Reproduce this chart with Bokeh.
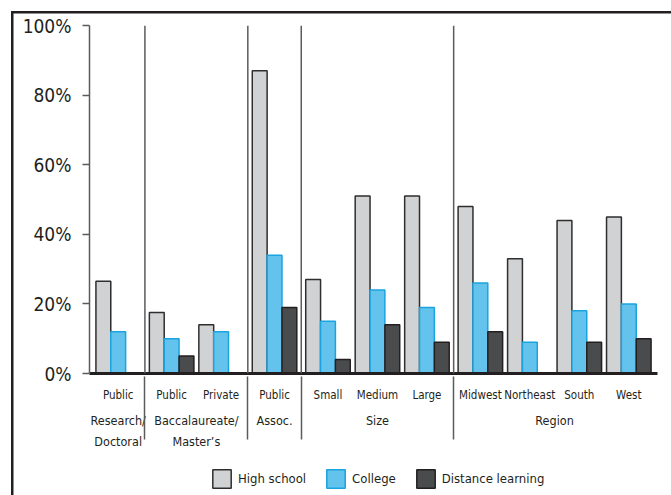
from bokeh.plotting import figure
from bokeh.layouts import column
from bokeh.models import (FactorRange, FixedTicker, PrintfTickFormatter, Span,
                          Legend, LegendItem, ColumnDataSource)
from bokeh.transform import dodge
from bokeh.embed import file_html
from bokeh.resources import INLINE

nan = float("nan")

groups = ["Research/\nDoctoral", "Baccalaureate/\nMaster\u2019s", "Assoc.", "Size", "Region"]
subcats = [["Public"], ["Public", "Private"], ["Public"],
           ["Small", "Medium", "Large"], ["Midwest", "Northeast", "South", "West"]]
series = ["High school", "College", "Distance learning"]
high_school = [26.5, 17.5, 14, 87, 27, 51, 51, 48, 33, 44, 45]
college = [12, 10, 12, 34, 15, 24, 19, 26, 9, 18, 20]
distance = [nan, 5, nan, 19, 4, 14, 9, 12, nan, 9, 10]
y_ticks = [0, 20, 40, 60, 80, 100]

FONT = "DejaVu Sans Condensed"
INK = "#231f20"
SEP = "#5a5b5d"
fills = ["#d1d2d4", "#63c3ec", "#4a4b4d"]
lines = ["#2e2e2e", "#1ba3df", "#231f20"]

factors = [(g, s) for g, subs in zip(groups, subcats) for s in subs]
gpad = 0.08
x_range = FactorRange(*factors, group_padding=gpad, factor_padding=0,
                      range_padding=0.08, range_padding_units="absolute")

p = figure(x_range=x_range, y_range=(0, 100), width=671, height=455,
           output_backend="svg", toolbar_location=None,
           min_border_left=89, min_border_right=14, min_border_top=25,
           min_border_bottom=82)
p.outline_line_color = None
p.border_fill_color = None
p.xgrid.visible = False
p.ygrid.visible = False

src = ColumnDataSource(dict(x=factors, hs=high_school, col=college, dl=distance))
for key, off, fc, lc in zip(["hs", "col", "dl"], [-0.3, 0.0, 0.3], fills, lines):
    p.vbar(x=dodge("x", off, range=p.x_range), top=key, width=0.3, source=src,
           fill_color=fc, line_color=lc, line_width=1.5)

# group separators inside the plot
cum = 0
for k, subs in enumerate(subcats[:-1]):
    cum += len(subs)
    p.add_layout(Span(location=cum + k * gpad + gpad / 2, dimension="height",
                      line_color=SEP, line_width=1.5))

xa = p.xaxis[0]
xa.axis_line_color = INK
xa.axis_line_width = 3
xa.major_tick_line_color = None
xa.minor_tick_line_color = None
xa.major_label_text_font = FONT
xa.major_label_text_font_size = "11.5px"
xa.major_label_text_color = INK
xa.major_label_standoff = 8
xa.group_text_font = FONT
xa.group_text_font_size = "12.5px"
xa.group_text_font_style = "normal"
xa.group_text_color = INK
xa.group_text_line_height = 1.4
xa.separator_line_color = SEP
xa.separator_line_width = 1.5

ya = p.yaxis[0]
ya.ticker = FixedTicker(ticks=y_ticks)
ya.formatter = PrintfTickFormatter(format="%d%%")
ya.axis_line_color = SEP
ya.axis_line_width = 1.5
ya.major_tick_line_color = SEP
ya.major_tick_line_width = 1.5
ya.major_tick_out = 7
ya.major_tick_in = 0
ya.minor_tick_line_color = None
ya.major_label_text_font = FONT
ya.major_label_text_font_size = "19px"
ya.major_label_text_color = INK
ya.major_label_standoff = 11

# legend strip below the chart (legend keys only, no data drawn)
pl = figure(width=671, height=40, x_range=(0, 1), y_range=(0, 1),
            output_backend="svg", toolbar_location=None,
            min_border=0)
pl.axis.visible = False
pl.grid.visible = False
pl.outline_line_color = None
pl.border_fill_color = None
pl.background_fill_color = None
keys = []
for fc, lc in zip(fills, lines):
    keys.append(pl.vbar(x=[nan], top=[nan], width=0.1,
                        fill_color=fc, line_color=lc, line_width=1.5))

legend = Legend(items=[LegendItem(label=s, renderers=[r]) for s, r in zip(series, keys)],
                orientation="horizontal", location=(121, 5),
                glyph_width=23, glyph_height=23, label_standoff=5, spacing=18,
                label_text_font=FONT, label_text_font_size="13px", label_text_color=INK,
                border_line_color=None, background_fill_alpha=0, padding=0, margin=0)
pl.add_layout(legend, "center")

box = (f"linear-gradient({INK}, {INK}) 11px 11px / 2.5px calc(100% - 11px) no-repeat, "
       f"linear-gradient({INK}, {INK}) 11px 11px / calc(100% - 11px) 2.5px no-repeat")
layout = column(p, pl, spacing=0, styles={"background": box})

open("out.html", "w").write(file_html(layout, INLINE))
